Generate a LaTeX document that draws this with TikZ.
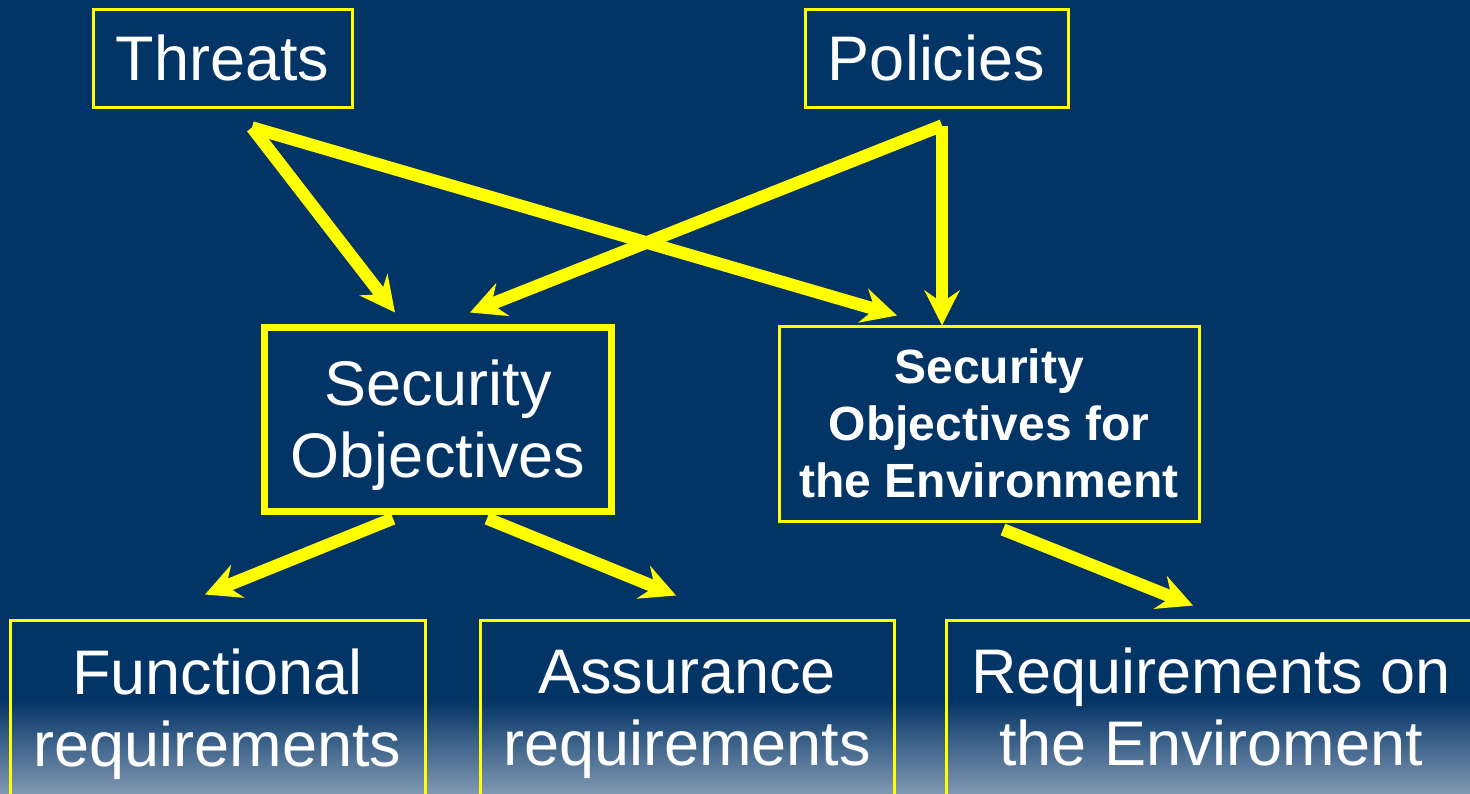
\documentclass[tikz,border=0pt]{standalone}
\usepackage{fontspec}
\setmainfont{Liberation Sans}
\usetikzlibrary{arrows.meta}
\definecolor{navy}{RGB}{3,52,102}
\definecolor{steel}{RGB}{128,152,178}
\definecolor{hilite}{RGB}{255,255,0}

\begin{document}
\begin{tikzpicture}[x=0.5pt,y=-0.5pt,
    box/.style={draw=hilite, line width=1.5pt, text=white, align=center, inner sep=0pt},
    big/.style={font=\fontsize{31.5}{36}\selectfont},
    small/.style={font=\bfseries\fontsize{24}{28.5}\selectfont},
    flow/.style={draw=hilite, line width=6.25pt, -{Stealth[length=17.5pt,width=17.5pt,inset=6pt]}}]
    % background
    \fill[navy] (0,0) rectangle (1470,793);
    \shade[top color=navy, bottom color=steel] (0,700) rectangle (1470,793);
    \useasboundingbox (0,0) rectangle (1470,793);

    \node[box, big, minimum width=129.5pt, minimum height=49pt] (threats) at (222.5,58) {Threats};
    \node[box, big, minimum width=131.5pt, minimum height=49pt] (policies) at (936.5,58) {Policies};
    \node[box, big, line width=3.5pt, text depth=0pt, minimum width=173.5pt, minimum height=92pt] (secobj) at (438,419) {Security\\Objectives};
    \node[box, small, minimum width=210pt, minimum height=97.5pt] (secenv) at (989,423.5) {Security\\Objectives for\\the Environment};
    \node[box, big, minimum width=207.5pt, minimum height=94pt] (func) at (217.5,714) {Functional\\requirements};
    \node[box, big, minimum width=207pt, minimum height=94pt] (assur) at (687,714) {Assurance\\requirements};
    \node[box, big, text depth=7pt, minimum width=265pt, minimum height=94pt] (reqenv) at (1211,714) {Requirements on\\the Enviroment};

    \coordinate (thr-out) at ([shift={(29.5,19)}]threats.south);
    \coordinate (pol-out) at ([shift={(5.5,17)}]policies.south);
    \coordinate (so-in1) at ([shift={(-43,-11)}]secobj.north);
    \coordinate (so-in2) at ([shift={(32,-11)}]secobj.north);
    \coordinate (env-in1) at ([shift={(-92,-9)}]secenv.north);
    \coordinate (env-in2) at ([shift={(-47,1)}]secenv.north);
    \coordinate (so-out1) at ([shift={(-45,4)}]secobj.south);
    \coordinate (so-out2) at ([shift={(49,4)}]secobj.south);
    \coordinate (env-out) at ([shift={(14,7)}]secenv.south);
    \coordinate (fun-in) at ([shift={(-12.5,-24)}]func.north);
    \coordinate (ass-in) at ([shift={(-11,-23)}]assur.north);
    \coordinate (req-in) at ([shift={(-18,-13)}]reqenv.north);

    \draw[flow] (thr-out) -- (so-in1);
    \draw[flow] (thr-out) -- (env-in1);
    \draw[flow] (pol-out) -- (so-in2);
    \draw[flow] (pol-out) -- (env-in2);
    \draw[flow] (so-out1) -- (fun-in);
    \draw[flow] (so-out2) -- (ass-in);
    \draw[flow] (env-out) -- (req-in);
\end{tikzpicture}
\end{document}
